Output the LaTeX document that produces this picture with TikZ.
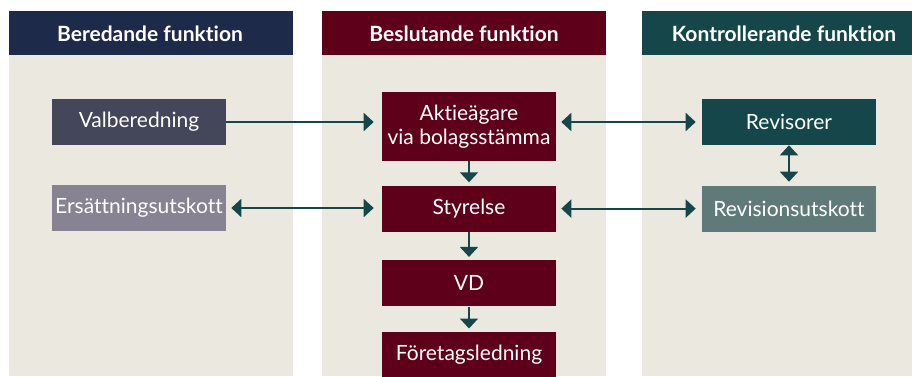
\documentclass[tikz,border=0pt]{standalone}
\usepackage{fontspec}
\setmainfont{Lato}[Ligatures=NoCommon]
\usetikzlibrary{arrows.meta,positioning}
\definecolor{bgbeige}{HTML}{EBE8E0}
\definecolor{navyhead}{HTML}{1E2A4A}
\definecolor{maroon}{HTML}{5E0019}
\definecolor{tealdark}{HTML}{15474A}
\definecolor{slategray}{HTML}{444659}
\definecolor{mauvegray}{HTML}{878393}
\definecolor{tealgray}{HTML}{5F7A78}

\begin{document}
\begin{tikzpicture}
[x=1pt,y=-1pt,>={Triangle[length=10pt,width=18pt]},semithick,
 font=\fontsize{21}{24}\selectfont]\tikzstyle{box}
=[minimum width=174pt,minimum height=46pt,inner sep=0pt,text=white,align=center]
\tikzstyle{head}=[text=white,font=\fontsize{21}{24}\selectfont\bfseries]
\tikzstyle{link}=[tealdark,line width=2pt]
\useasboundingbox (0,0) rectangle (912,376);
% columns
\fill[bgbeige] (9,55) rectangle (293,376);
\fill[bgbeige] (322,55) rectangle (606,376);
\fill[bgbeige] (642,55) rectangle (912,376);
\fill[navyhead] (9,11) rectangle (293,55);
\fill[maroon] (322,11) rectangle (606,55);
\fill[tealdark] (642,11) rectangle (912,55);
\node[head] (hbered) at (150,34) {Beredande funktion};
\node[head] (hbesl) at (464,34) {Beslutande funktion};
\node[head] (hkontr) at (784,34) {Kontrollerande funktion};

\node[box,fill=slategray] (valb) at (139,122) {Valberedning};
\node[box,fill=mauvegray] (ersu) at (139,208) {Ersättningsutskott};
\node[box,fill=maroon,minimum height=69pt] (akt) at (469,126.5) {Aktieägare\\via bolagsstämma};
\node[box,fill=maroon] (styr) [below=24pt of akt] {Styrelse};
\node[box,fill=maroon] (vd) [below=28pt of styr] {VD};
\node[box,fill=maroon] (ftl) [below=25pt of vd] {Företagsledning};
\node[box,fill=tealdark] (rev) at (789,122) {Revisorer};
\node[box,fill=tealgray] (revu) at (789,209) {Revisionsutskott};

\path
(valb.east) edge [link, ->, shorten >=8pt]  (valb -| akt.west)

(akt.east |- rev) edge [link, <->, shorten <=5pt, shorten >=6pt]  (rev.west)

(ersu.east) edge [link, <->, shorten <=5pt, shorten >=8pt]  (ersu -| styr.west)

(styr.east) edge [link, <->, shorten <=5pt, shorten >=6pt]  (styr -| revu.west)

(rev.south) edge [link, <->, shorten >=4pt]  (revu.north)

(akt.south) edge [link, ->, shorten >=3pt]  (styr.north)

(styr.south) edge [link, ->, shorten >=3pt]  (vd.north)

(vd.south) edge [link, ->, shorten >=3pt]  (ftl.north)
;\end{tikzpicture}
\end{document}
